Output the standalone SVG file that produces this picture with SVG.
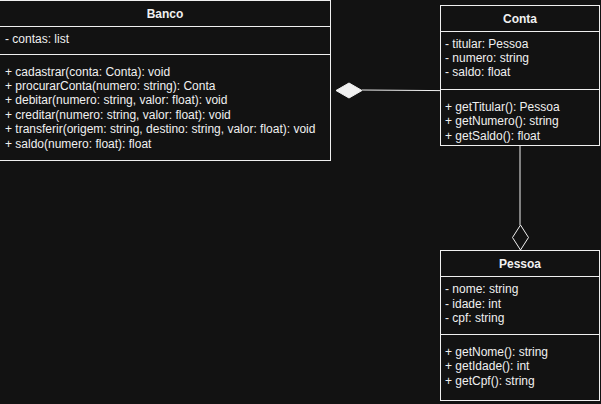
<svg xmlns="http://www.w3.org/2000/svg" width="601" height="404" viewBox="0 0 601 404">
<style>
.box{fill:#121212;stroke:#f0f0f0;stroke-width:1}
.sep{stroke:#f0f0f0;stroke-width:1;fill:none}
text{font-family:"Liberation Sans",Arial,Helvetica,sans-serif;font-size:12px;fill:#f0f0f0}
.title{font-weight:bold;text-anchor:middle}
.edge{stroke:#f0f0f0;stroke-width:1;fill:none}
</style>
<rect x="0" y="0" width="601" height="404" fill="#121212"/>
<g id="connectors">
<line class="edge" x1="362" y1="90" x2="441" y2="90.6"/>
<polygon points="336,90.5 349,83 362,90.5 349,98" fill="#f0f0f0" stroke="#f0f0f0" stroke-width="1"/>
<line class="edge" x1="520" y1="145.5" x2="520" y2="225"/>
<polygon points="520.5,225 528.5,237.5 520.5,250 512.5,237.5" fill="#121212" stroke="#f0f0f0" stroke-width="1"/>
</g>
<g id="Banco">
<rect class="box" x="-0.5" y="0.5" width="331" height="160"/>
<line class="sep" x1="-1" y1="26.5" x2="330.5" y2="26.5"/>
<line class="sep" x1="-1" y1="54.5" x2="330.5" y2="54.5"/>
<text class="title" x="165" y="18">Banco</text>
<text x="5" y="43">- contas: list</text>
<text x="5" y="75.5">+ cadastrar(conta: Conta): void</text>
<text x="5" y="89.9">+ procurarConta(numero: string): Conta</text>
<text x="5" y="104.3">+ debitar(numero: string, valor: float): void</text>
<text x="5" y="118.7">+ creditar(numero: string, valor: float): void</text>
<text x="5" y="133.1">+ transferir(origem: string, destino: string, valor: float): void</text>
<text x="5" y="147.5">+ saldo(numero: float): float</text>
</g>
<g id="Conta">
<rect class="box" x="440.5" y="5.5" width="159" height="140"/>
<line class="sep" x1="440.5" y1="31.5" x2="599.5" y2="31.5"/>
<line class="sep" x1="440.5" y1="89.5" x2="599.5" y2="89.5"/>
<text class="title" x="520" y="23">Conta</text>
<text x="445" y="47.5">- titular: Pessoa</text>
<text x="445" y="61.9">- numero: string</text>
<text x="445" y="76.3">- saldo: float</text>
<text x="445" y="110.8">+ getTitular(): Pessoa</text>
<text x="445" y="125.2">+ getNumero(): string</text>
<text x="445" y="139.6">+ getSaldo(): float</text>
</g>
<g id="Pessoa">
<rect class="box" x="440.5" y="250.5" width="159" height="150"/>
<line class="sep" x1="440.5" y1="276.5" x2="599.5" y2="276.5"/>
<line class="sep" x1="440.5" y1="334.5" x2="599.5" y2="334.5"/>
<text class="title" x="520" y="268">Pessoa</text>
<text x="445" y="293.3">- nome: string</text>
<text x="445" y="307.7">- idade: int</text>
<text x="445" y="322.1">- cpf: string</text>
<text x="445" y="355.8">+ getNome(): string</text>
<text x="445" y="370.2">+ getIdade(): int</text>
<text x="445" y="384.6">+ getCpf(): string</text>
</g>
</svg>
